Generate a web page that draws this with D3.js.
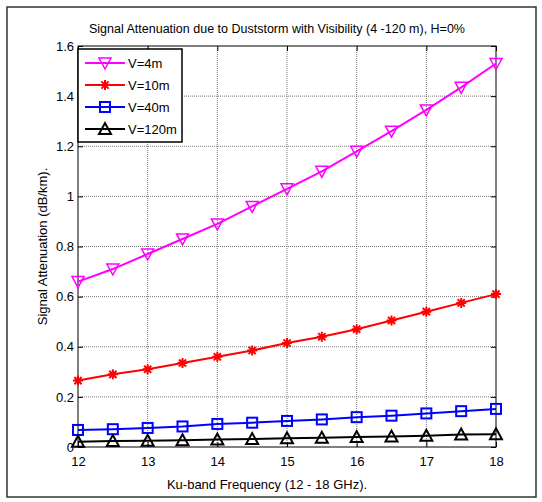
<!DOCTYPE html>
<html>
<head>
<meta charset="utf-8">
<script src="https://cdn.jsdelivr.net/npm/d3@7"></script>
<style>
  body { margin: 0; background: #fff; }
  svg { display: block; font-family: "Liberation Sans", Arial, sans-serif; }
</style>
</head>
<body>
<div id="chart"></div>
<script>
// frequencies (GHz)
const freqs = [12, 12.5, 13, 13.5, 14, 14.5, 15, 15.5, 16, 16.5, 17, 17.5, 18];
// attenuation (dB/km) per visibility
const v4 = [0.66, 0.71, 0.77, 0.83, 0.89, 0.96, 1.03, 1.10, 1.18, 1.26, 1.345, 1.435, 1.53];
const v10 = [0.265, 0.29, 0.31, 0.335, 0.36, 0.385, 0.415, 0.44, 0.47, 0.505, 0.54, 0.575, 0.61];
const v40 = [0.068, 0.071, 0.076, 0.082, 0.092, 0.097, 0.104, 0.110, 0.119, 0.125, 0.134, 0.143, 0.152];
const v120 = [0.021, 0.024, 0.025, 0.027, 0.030, 0.032, 0.035, 0.037, 0.040, 0.042, 0.045, 0.050, 0.051];
const seriesNames = ['V=4m', 'V=10m', 'V=40m', 'V=120m'];
const xTicks = [12, 13, 14, 15, 16, 17, 18];
const yTicks = [0, 0.2, 0.4, 0.6, 0.8, 1, 1.2, 1.4, 1.6];

const W = 542, H = 502;
const margin = { top: 46, right: 46, bottom: 55, left: 78 };
const iw = W - margin.left - margin.right;
const ih = H - margin.top - margin.bottom;

const series = [
  { name: seriesNames[0], values: v4, color: '#ff00ff', marker: 'tridown' },
  { name: seriesNames[1], values: v10, color: '#ff0000', marker: 'star' },
  { name: seriesNames[2], values: v40, color: '#0000ff', marker: 'square' },
  { name: seriesNames[3], values: v120, color: '#000000', marker: 'triup' }
];

const svg = d3.select('#chart').append('svg')
  .attr('width', W).attr('height', H);

// outer frame
svg.append('rect')
  .attr('x', 7).attr('y', 7)
  .attr('width', 529).attr('height', 490)
  .attr('fill', 'none').attr('stroke', '#333').attr('stroke-width', 1.5);

const x = d3.scaleLinear().domain([12, 18]).range([0, iw]);
const y = d3.scaleLinear().domain([0, 1.6]).range([ih, 0]);

const g = svg.append('g').attr('transform', `translate(${margin.left},${margin.top})`);

// grid
g.append('g').selectAll('line').data(xTicks.slice(1, -1)).join('line')
  .attr('x1', d => x(d)).attr('x2', d => x(d))
  .attr('y1', 0).attr('y2', ih)
  .attr('stroke', '#777').attr('stroke-width', 1).attr('stroke-dasharray', '1,1');
g.append('g').selectAll('line').data(yTicks.slice(1, -1)).join('line')
  .attr('x1', 0).attr('x2', iw)
  .attr('y1', d => y(d)).attr('y2', d => y(d))
  .attr('stroke', '#777').attr('stroke-width', 1).attr('stroke-dasharray', '1,1');

// axes (MATLAB style: inward ticks)
const fmt = d => d3.format('')(+d.toFixed(1));
const styleAxis = sel => {
  sel.select('.domain').remove();
  sel.selectAll('line').attr('stroke', '#000');
  sel.selectAll('text').attr('fill', '#000').style('font-size', '13px');
};
g.append('g').attr('transform', `translate(0,${ih})`)
  .call(d3.axisBottom(x).tickValues(xTicks).tickSize(-5).tickPadding(10).tickFormat(fmt))
  .call(styleAxis);
g.append('g')
  .call(d3.axisLeft(y).tickValues(yTicks).tickSize(-5).tickPadding(4).tickFormat(fmt))
  .call(styleAxis);
g.append('g')
  .call(d3.axisTop(x).tickValues(xTicks).tickSize(-5).tickFormat(''))
  .call(styleAxis);
g.append('g').attr('transform', `translate(${iw},0)`)
  .call(d3.axisRight(y).tickValues(yTicks).tickSize(-5).tickFormat(''))
  .call(styleAxis);

g.append('rect').attr('width', iw).attr('height', ih)
  .attr('fill', 'none').attr('stroke', '#000').attr('stroke-width', 1);

// markers
function drawMarker(sel, type, color) {
  if (type === 'tridown') {
    sel.append('path').attr('d', 'M-6,-5L6,-5L0,6Z')
      .attr('fill', 'none').attr('stroke', color).attr('stroke-width', 1.5);
  } else if (type === 'triup') {
    sel.append('path').attr('d', 'M-6,5L6,5L0,-6Z')
      .attr('fill', 'none').attr('stroke', color).attr('stroke-width', 2);
  } else if (type === 'square') {
    sel.append('rect').attr('x', -5).attr('y', -5).attr('width', 10).attr('height', 10)
      .attr('fill', 'none').attr('stroke', color).attr('stroke-width', 2);
  } else if (type === 'star') {
    sel.append('path')
      .attr('d', 'M-5,0L5,0M0,-5L0,5M-3.6,-3.6L3.6,3.6M-3.6,3.6L3.6,-3.6')
      .attr('fill', 'none').attr('stroke', color).attr('stroke-width', 2);
  }
}

const line = d3.line().x((d, i) => x(freqs[i])).y(d => y(d));

series.forEach(s => {
  g.append('path').datum(s.values)
    .attr('d', line)
    .attr('fill', 'none').attr('stroke', s.color).attr('stroke-width', 2);
  g.append('g').selectAll('g').data(s.values).join('g')
    .attr('transform', (d, i) => `translate(${x(freqs[i])},${y(d)})`)
    .each(function () { drawMarker(d3.select(this), s.marker, s.color); });
});

// legend
const leg = g.append('g').attr('transform', 'translate(0,3)');
leg.append('rect').attr('x', 0).attr('y', 0).attr('width', 104).attr('height', 93)
  .attr('fill', '#fff').attr('stroke', '#000').attr('stroke-width', 1.5);
series.forEach((s, i) => {
  const row = leg.append('g').attr('transform', `translate(0,${14 + i * 22})`);
  row.append('line').attr('x1', 7).attr('x2', 47).attr('y1', 0).attr('y2', 0)
    .attr('stroke', s.color).attr('stroke-width', 2);
  drawMarker(row.append('g').attr('transform', 'translate(27,0)'), s.marker, s.color);
  row.append('text').attr('x', 50).attr('y', 5).text(s.name)
    .style('font-size', '13px').attr('fill', '#000');
});

// title and labels
svg.append('text').attr('x', margin.left + iw / 2 - 10).attr('y', 33)
  .attr('text-anchor', 'middle').style('font-size', '12.5px')
  .text('Signal Attenuation due to Duststorm with Visibility (4 -120 m), H=0%');
svg.append('text').attr('x', margin.left + iw / 2 - 20).attr('y', 489)
  .attr('text-anchor', 'middle').style('font-size', '13px')
  .text('Ku-band Frequency (12 - 18 GHz).');
svg.append('text')
  .attr('transform', `translate(47,${margin.top + ih / 2}) rotate(-90)`)
  .attr('text-anchor', 'middle').style('font-size', '13px')
  .text('Signal Attenuation (dB/km).');
</script>
</body>
</html>
